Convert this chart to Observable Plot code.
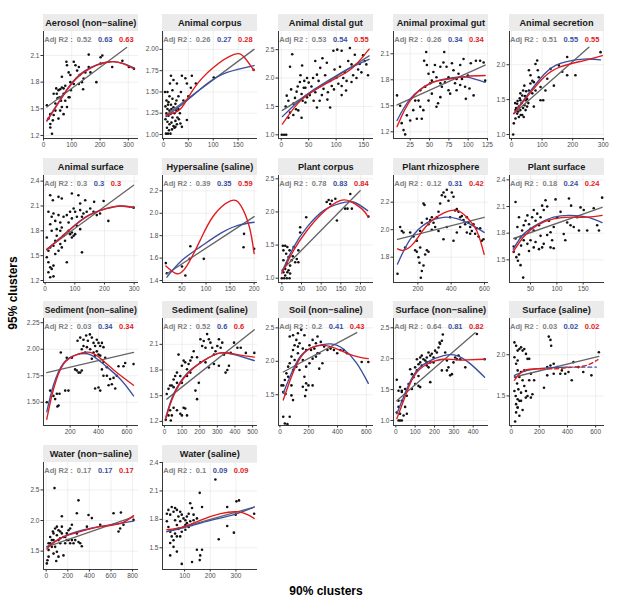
<!DOCTYPE html>
<html>
<head>
<meta charset="utf-8">
<script src="https://cdn.jsdelivr.net/npm/d3@7"></script>
<script src="https://cdn.jsdelivr.net/npm/@observablehq/plot@0.6"></script>
<style>
  html, body { margin: 0; padding: 0; background: #fff; }
  #root { position: relative; width: 617px; height: 605px; overflow: hidden; font-family: "Liberation Sans", Arial, Helvetica, sans-serif; }
  .strip { position: absolute; background: #ebebeb; display: flex; justify-content: center; align-items: center; overflow: hidden; white-space: nowrap; font-weight: bold; font-size: 9.2px; color: #1a1a1a; }
  .r2 { position: absolute; white-space: nowrap; font-weight: bold; font-size: 7.5px; line-height: 9px; }
  .r2 span + span { margin-left: 6.5px; }
  .panel { position: absolute; }
  .title { position: absolute; font-weight: bold; font-size: 12px; color: #000; white-space: nowrap; transform: translate(-50%, -50%); }
</style>
</head>
<body>
<div id="root"></div>
<script>
// ---------------- DATA ----------------
const panelNames = ["Aerosol (non\u2212saline)", "Animal corpus", "Animal distal gut", "Animal proximal gut", "Animal secretion",
  "Animal surface", "Hypersaline (saline)", "Plant corpus", "Plant rhizosphere", "Plant surface",
  "Sediment (non\u2212saline)", "Sediment (saline)", "Soil (non\u2212saline)", "Surface (non\u2212saline)", "Surface (saline)",
  "Water (non\u2212saline)", "Water (saline)"];

const r2Grey = ["0.52","0.26","0.53","0.26","0.51","0.3","0.39","0.78","0.12","0.18","0.03","0.52","0.2","0.64","0.03","0.17","0.1"];
const r2Blue = ["0.63","0.27","0.54","0.34","0.55","0.3","0.35","0.83","0.31","0.24","0.34","0.6","0.41","0.81","0.02","0.17","0.09"];
const r2Red  = ["0.63","0.28","0.55","0.34","0.55","0.3","0.59","0.84","0.42","0.24","0.34","0.6","0.43","0.82","0.02","0.17","0.09"];

const xDomains = [[0,336],[-2,189],[-5,168],[3.4,126.3],[-6.5,304],[-5.6,314.6],[9.5,207],[-8.5,233],[54,624],[10,190.5],
  [12,682],[-11,528],[-10,650],[-12,479],[-12,663],[-25,855],[14,384]];
const yDomains = [[1.166,2.37],[0.953,2.21],[0.935,2.82],[1.123,2.357],[0.943,2.476],[1.176,2.468],[1.382,2.337],[0.935,2.55],[1.616,2.394],[1.245,2.449],
  [1.281,2.29],[1.152,2.402],[1.04,2.64],[0.919,2.65],[1.141,2.44],[1.2,2.948],[1.271,2.4]];
const xTickLabels = [[0,100,200,300],[0,50,100,150],[0,50,100,150],[25,50,75,100,125],[0,100,200,300],
  [0,100,200,300],[50,100,150,200],[0,50,100,150,200],[200,400,600],[50,100,150],
  [200,400,600],[0,100,200,300,400,500],[0,200,400,600],[0,100,200,300,400],[0,200,400,600],
  [0,200,400,600,800],[100,200,300]];
const yTickLabels = [[1.2,1.5,1.8,2.1],[1.0,1.25,1.5,1.75,2.0],[1.0,1.5,2.0,2.5],[1.2,1.5,1.8,2.1],[1.0,1.5,2.0],
  [1.2,1.5,1.8,2.1,2.4],[1.4,1.6,1.8,2.0,2.2],[1.0,1.5,2.0,2.5],[1.8,2.0,2.2],[1.5,1.8,2.1,2.4],
  [1.5,1.75,2.0,2.25],[1.2,1.5,1.8,2.1],[1.5,2.0,2.5],[1.0,1.5,2.0,2.5],[1.5,2.0],
  [1.5,2.0,2.5],[1.5,1.8,2.1,2.4]];
const yTickDecimals = [1,2,1,1,1, 1,1,1,1,1, 2,1,1,1,1, 1,1];

// points [x90, y95]
const aerosolPts = [[12,1.54],[18,1.39],[24,1.33],[30,1.22],[24,1.29],[36,1.43],[42,1.48],[47,1.67],[36,1.67],[53,1.71],[59,1.72],[65,1.74],[57,1.63],[62,1.59],[65,1.52],[59,1.48],[53,1.39],[71,1.44],[77,1.59],[71,1.67],[77,1.76],[81,2.03],[83,1.99],[89,1.91],[95,1.88],[95,1.8],[97,1.71],[89,1.63],[107,2.03],[113,1.99],[119,1.93],[125,1.97],[128,1.88],[136,1.8],[140,1.72],[142,1.84],[148,1.91],[160,1.97],[160,2.11],[166,1.91],[187,1.8],[202,2.08],[208,2.1],[202,2.01],[243,1.97],[279,2.04],[302,1.97],[320,1.95],[45,1.73],[50,1.62],[42,1.56],[83,1.52],[92,1.63],[33,1.37],[24,1.44],[71,1.73],[65,1.86],[125,1.78],[107,1.78]];
const corpusPts = [[5,1.01],[9,1.01],[14,1.01],[3,1.5],[8,1.5],[12,1.45],[6,1.4],[10,1.38],[15,1.35],[18,1.42],[4,1.33],[8,1.3],[12,1.28],[16,1.3],[20,1.32],[24,1.36],[6,1.25],[10,1.22],[14,1.24],[18,1.2],[22,1.25],[26,1.28],[30,1.3],[4,1.18],[8,1.15],[12,1.12],[16,1.14],[20,1.1],[24,1.16],[28,1.2],[7,1.08],[11,1.05],[17,1.06],[22,1.08],[27,1.12],[31,1.18],[34,1.13],[37,1.09],[47,1.17],[24,1.09],[13,1.6],[15,1.69],[20,1.64],[27,1.6],[37,1.69],[44,1.66],[47,1.6],[57,1.69],[40,1.4],[35,1.5],[30,1.45],[50,1.45],[55,1.55],[65,1.6],[101,1.67],[181,1.76],[18,1.52],[9,1.35],[26,1.4],[33,1.25]];
const distalPts = [[1,1.0],[5,1.0],[9,1.0],[20,2.42],[10,1.69],[13,1.6],[16,1.39],[22,1.55],[28,1.76],[34,1.93],[37,1.72],[31,1.43],[39,1.6],[44,1.83],[47,2.0],[22,1.35],[13,1.3],[37,1.3],[16,2.2],[38,2.22],[95,2.48],[102,2.5],[110,2.48],[125,2.53],[134,2.41],[149,2.4],[155,2.24],[83,2.27],[71,2.18],[65,2.06],[50,1.92],[41,1.83],[47,1.66],[62,1.75],[77,1.81],[89,1.95],[92,1.86],[101,2.01],[110,1.86],[89,1.48],[65,1.48],[110,1.7],[128,1.93],[116,2.1],[140,2.15],[128,2.24],[44,1.57],[59,1.6],[55,1.85],[58,2.0],[68,1.95],[74,1.7],[80,2.05],[85,1.75],[97,2.15],[104,1.9],[107,2.2],[113,2.0],[119,1.95],[122,2.3],[131,2.05],[137,2.0],[143,2.25],[146,2.1],[152,2.3],[158,2.05],[25,1.65],[30,1.85],[35,2.05],[52,1.7],[70,1.6],[84,1.62],[96,1.8],[118,1.78],[75,2.35],[62,2.3],[8,1.5],[18,1.8],[27,1.45],[42,1.95]];
const proximalPts = [[8,1.62],[12,1.5],[14,1.3],[16.4,1.22],[18.5,1.17],[20.7,1.39],[25,1.33],[29,1.45],[33.6,1.35],[35.8,1.56],[38,1.49],[40,1.35],[42,1.45],[43,2.02],[45.7,2.12],[46.6,1.97],[48.7,1.87],[44.4,1.72],[51,1.76],[53,1.64],[55,1.89],[57,1.97],[59,1.49],[61,1.53],[64,1.6],[66,1.72],[68,2.0],[69,2.12],[72,1.95],[74.6,1.83],[76.7,1.64],[79,1.99],[81,1.91],[83,1.76],[85,1.68],[87.5,1.87],[89.7,1.97],[92,1.81],[94,2.04],[96,1.72],[97,1.58],[99.6,1.85],[101.7,1.7],[103.4,1.99],[107,1.62],[110,2.02],[115.5,2.02],[120,2.0],[122,1.79],[70,1.77],[74.6,1.68],[53,1.79],[59,1.83],[85,1.81],[89.7,1.74],[38,1.68],[31.5,1.56],[48.7,1.56],[64,1.76],[64,1.95]];
const secretionPts = [[5.5,1.0],[7.6,1.16],[13,1.23],[18.5,1.3],[24,1.4],[29,1.49],[35,1.56],[38,1.63],[42.5,1.42],[46,1.35],[51,1.51],[57,1.92],[62,1.73],[68,1.59],[73,1.4],[78.5,2.01],[84,2.06],[86,1.92],[89,1.82],[95,1.49],[103.6,1.49],[111,1.63],[117,1.8],[127.6,1.94],[138.5,1.7],[155,1.99],[166,1.9],[182,1.85],[182,2.11],[209,1.85],[291,2.18],[73,1.75],[62,1.85],[24,1.25],[35,1.28],[29,1.35],[46,1.49],[57,1.63],[18.5,1.44],[51,1.4],[13,1.35],[40,1.25],[29,1.59],[78.5,1.63],[95,1.68],[68,1.77],[20,1.48],[27,1.52],[33,1.45],[38,1.38],[44,1.55],[15,1.38],[22,1.33],[48,1.62],[55,1.45],[30,1.28],[12,1.45],[42,1.7]];
const animSurfPts = [[17,2.23],[26,2.17],[45,2.21],[56,2.19],[90,2.25],[112,2.23],[118,2.13],[135,2.17],[165,2.15],[197,2.16],[213,1.92],[298,2.08],[11,2.03],[17,1.88],[22,1.97],[28,2.01],[34,1.92],[45,1.99],[51,1.9],[56,1.84],[62,1.97],[73,1.99],[79,1.9],[84,2.03],[90,1.95],[96,2.07],[101,2.03],[107,1.97],[118,2.05],[124,1.97],[129,2.01],[140,2.03],[152,2.07],[163,2.03],[174,1.99],[185,2.01],[90,1.78],[96,1.74],[101,1.76],[90,1.72],[84,1.76],[79,1.8],[67,1.68],[62,1.74],[51,1.8],[39,1.74],[34,1.68],[28,1.62],[17,1.6],[11,1.56],[5.6,1.48],[11,1.42],[17,1.36],[22,1.34],[28,1.38],[11,1.3],[17,1.24],[28,1.25],[34,1.52],[45,1.56],[51,1.64],[73,1.42],[124,1.54],[56,1.6],[5.6,1.72],[39,1.82],[107,1.86],[118,1.82],[22,1.8]];
const hyperPts = [[16.5,1.555],[18.6,1.465],[50,1.525],[57,1.445],[67.4,1.706],[66,1.593],[95.4,1.593],[179,1.816],[178,1.697],[200,1.683]];
const plantCorpPts = [[0,1.0],[6,1.0],[12.7,1.0],[19.5,1.0],[2.5,1.49],[8.5,1.49],[14,1.47],[4,1.42],[11,1.37],[17,1.32],[4,1.27],[12.7,1.22],[8.5,1.14],[17,1.12],[21,1.19],[4,1.09],[25,1.27],[19.5,1.42],[28,1.33],[34,1.24],[38,1.29],[42,1.24],[46.6,1.77],[46.6,1.69],[42,1.42],[62,1.92],[114,2.15],[119,2.18],[123,2.12],[127,2.17],[136,2.2],[140,1.87],[161,2.05],[167,2.05],[174,2.27],[178,2.05],[220,1.93],[30,1.47],[8.5,1.04],[14,1.09],[21,1.07]];
const rhizoPts = [[78,1.68],[94,2.02],[104,1.99],[114,1.98],[184,1.85],[194,1.84],[204,1.8],[210,1.76],[214,1.87],[224,1.7],[218,1.65],[234,1.74],[244,1.82],[254,1.85],[264,1.84],[224,2.05],[234,2.19],[240,2.18],[254,2.08],[264,2.04],[274,2.07],[284,2.09],[294,2.05],[304,2.02],[314,2.09],[324,2.13],[334,2.19],[344,2.25],[354,2.27],[364,2.24],[374,2.29],[384,2.21],[404,2.27],[414,2.24],[424,2.14],[434,2.15],[444,2.13],[454,2.09],[464,2.1],[474,2.07],[484,2.04],[494,2.09],[504,2.05],[514,2.02],[524,1.99],[534,2.04],[544,1.97],[554,2.01],[564,1.95],[574,2.01],[584,1.92],[594,1.93],[354,1.93],[414,1.92],[324,1.99],[284,2.0],[374,2.02],[394,2.09],[454,2.02],[434,1.98],[494,1.98],[514,1.97],[174,1.95],[154,1.98],[214,1.99],[194,1.92],[124,1.87]];
const plantSurfPts = [[21.5,2.15],[18,1.59],[23,1.53],[26,1.49],[28,1.56],[31,1.44],[36,1.3],[31,1.76],[34,1.83],[37,1.89],[40.5,1.94],[44,2.0],[47,1.9],[50,1.85],[53,1.98],[56,2.06],[59.5,1.94],[62.7,2.02],[66,1.89],[69,1.98],[72,2.11],[75,2.06],[78.5,2.17],[81.6,2.1],[85,1.94],[88,1.81],[91,1.72],[94,1.87],[97.5,2.18],[100.6,1.98],[107,2.04],[113,1.79],[119.6,1.92],[123,2.19],[127,2.11],[132,1.87],[138.6,1.98],[142,1.83],[145,2.09],[151,2.06],[157.6,1.83],[170,2.08],[176.6,1.89],[180,1.83],[186,2.2],[56,1.64],[59.5,1.7],[66,1.62],[72,1.64],[81.6,1.78],[50,1.72],[44,1.68],[47,1.6],[37,1.72],[32,1.66],[56,1.83],[69,1.77],[75,1.68],[88,1.64],[94,1.63],[25,1.87],[28,1.98],[21.5,1.74],[18,1.65],[116,1.72],[126,1.89]];
const sedNonPts = [[35,1.5],[59,1.61],[82,1.56],[94,1.53],[106,1.58],[118,1.47],[125,1.58],[110,1.46],[134,1.97],[165,1.61],[176,1.92],[188,1.61],[212,1.92],[235,1.81],[247,1.8],[259,1.78],[271,1.78],[282,1.8],[252,2.08],[271,2.11],[294,2.09],[313,2.13],[325,2.08],[339,2.14],[353,2.11],[365,2.06],[376,2.03],[388,2.09],[400,2.06],[412,2.03],[424,2.06],[435,2.02],[388,1.98],[400,1.95],[412,1.94],[376,1.94],[365,1.97],[341,2.0],[318,2.02],[353,1.91],[376,1.63],[400,1.64],[412,1.61],[424,1.81],[435,1.88],[447,1.92],[459,1.75],[471,1.66],[482,1.72],[494,1.67],[518,1.63],[529,1.75],[541,1.84],[576,1.84],[588,1.87],[647,1.86],[435,1.75],[459,1.83],[506,1.73],[294,2.03],[282,2.0],[306,1.97]];
const sedSalPts = [[7.6,1.22],[23,1.27],[32,1.33],[42,1.27],[36,1.21],[99,1.27],[109,1.36],[118,1.35],[90,1.29],[128,1.27],[52,1.36],[71,1.33],[13,1.52],[32,1.62],[42,1.62],[52,1.6],[61,1.73],[71,1.77],[80,1.98],[90,1.73],[99,1.85],[109,1.91],[118,1.89],[128,1.81],[137,1.87],[147,1.91],[156,1.95],[176,1.56],[185,1.46],[195,1.65],[204,2.16],[214,2.08],[223,2.14],[233,2.06],[242,2.22],[252,2.16],[261,2.12],[271,2.06],[281,1.98],[290,2.02],[300,2.08],[309,2.16],[319,2.06],[328,2.12],[338,1.98],[347,1.77],[357,1.8],[366,1.85],[376,2.0],[395,2.12],[414,2.06],[433,2.06],[462,2.0],[510,2.0],[185,1.95],[204,1.89],[166,2.02],[233,1.89],[252,1.83],[309,1.85],[281,1.87],[128,1.73],[147,1.77],[99,1.65],[71,1.65],[52,1.69],[23,1.58]];
const soilPts = [[11,1.64],[80,1.64],[23,1.54],[39,1.51],[80,1.49],[23,1.17],[34,1.07],[52,1.06],[68,1.17],[159,1.62],[182,1.57],[175,1.48],[198,1.64],[227,1.64],[91,1.42],[23,1.64],[34,1.72],[45,1.82],[57,1.92],[68,1.97],[80,2.07],[91,2.17],[102,2.24],[114,2.32],[125,2.42],[148,2.47],[170,2.39],[136,2.27],[159,2.19],[182,2.17],[205,2.24],[227,2.32],[250,2.27],[261,2.37],[284,2.29],[307,2.22],[330,2.17],[352,2.19],[375,2.17],[398,2.12],[420,2.17],[443,2.17],[466,2.12],[250,2.07],[273,2.12],[227,2.04],[205,1.97],[182,1.92],[159,2.02],[125,2.12],[102,2.02],[91,1.87],[57,1.77],[114,1.92],[136,1.87],[170,1.77],[182,1.67],[68,2.37],[91,2.39],[125,2.22],[295,1.97],[273,1.89],[568,1.99],[614,1.99],[216,2.17],[239,2.19],[261,2.12]];
const surfNonPts = [[5,1.13],[14,1.0],[22,1.0],[31,1.0],[22,1.11],[40,1.08],[57,1.11],[48,1.22],[14,1.22],[31,1.32],[57,1.4],[83,1.51],[14,1.32],[31,1.48],[100,1.59],[117,1.56],[126,1.54],[178,1.62],[5,1.66],[14,1.48],[22,1.54],[31,1.46],[48,1.51],[66,1.59],[74,1.83],[91,1.7],[109,1.81],[117,1.91],[126,2.02],[134,2.05],[143,1.99],[152,1.97],[160,2.02],[169,2.1],[178,2.05],[186,2.08],[195,2.02],[203,2.13],[212,2.1],[221,2.18],[229,2.24],[238,2.29],[243,2.39],[226,2.26],[255,2.1],[264,1.97],[272,1.86],[281,1.73],[290,1.75],[298,1.94],[307,2.02],[316,1.99],[324,2.05],[333,1.99],[359,1.86],[419,2.4],[459,1.99],[126,1.94],[109,1.99],[134,1.89],[160,1.94],[178,1.94],[195,1.94],[169,1.86],[100,1.86],[83,1.75],[117,1.72],[160,1.89],[264,1.81],[238,1.81]];
const surfSalPts = [[23,2.15],[35,2.11],[46,2.05],[58,2.07],[70,2.09],[81,2.05],[93,2.07],[105,2.01],[116,1.95],[128,1.95],[23,1.97],[35,1.89],[46,1.81],[28,1.73],[42,1.65],[51,1.58],[32,1.5],[46,1.46],[35,1.4],[46,1.36],[23,1.56],[58,1.73],[70,1.79],[81,1.69],[93,1.62],[105,1.56],[116,1.5],[140,1.48],[151,1.52],[163,1.69],[140,1.77],[128,1.69],[70,1.54],[58,1.44],[93,1.81],[46,1.93],[267,2.22],[279,2.18],[284,2.11],[233,1.6],[279,1.87],[302,1.89],[326,1.85],[349,1.77],[360,1.81],[384,1.77],[407,1.79],[430,1.69],[442,1.91],[477,1.85],[512,1.79],[570,1.75],[623,2.03],[302,1.77],[256,1.75],[256,1.85],[28,1.19],[46,1.36],[70,1.44],[35,1.3],[58,1.26],[81,1.33],[104,1.48]];
const waterNonPts = [[77,2.53],[22,1.41],[6,1.3],[12,1.35],[22,1.52],[37,1.63],[52,1.68],[68,1.79],[83,1.87],[99,1.9],[114,1.84],[130,1.82],[145,1.79],[160,1.73],[145,1.9],[114,1.68],[83,1.57],[99,1.49],[68,1.46],[93,1.34],[114,1.41],[160,1.43],[145,2.07],[176,1.63],[191,1.68],[207,1.84],[222,1.87],[238,1.93],[253,1.63],[269,1.68],[284,1.79],[299,2.33],[284,2.12],[315,1.63],[330,1.58],[299,1.65],[238,1.68],[222,1.63],[191,1.79],[377,1.9],[392,2.09],[423,2.04],[500,1.93],[624,2.12],[670,1.82],[685,1.87],[692,2.13],[716,1.93],[809,2.01],[37,1.73],[52,1.57],[68,1.68],[130,1.71],[99,1.76],[176,1.73],[207,1.68],[62,1.82],[130,1.63],[22,1.63]];
const waterSalPts = [[220,2.22],[159,2.08],[50,1.93],[63,1.92],[31,1.86],[37,1.9],[44,1.85],[57,1.88],[70,1.9],[76,1.83],[83,1.88],[89,1.85],[96,1.81],[103,1.79],[109,1.83],[116,1.86],[122,1.97],[129,1.92],[135,1.85],[148,1.81],[168,1.93],[31,1.78],[37,1.72],[44,1.67],[50,1.62],[57,1.58],[63,1.65],[70,1.74],[76,1.7],[83,1.62],[89,1.67],[96,1.72],[103,1.69],[109,1.76],[116,1.72],[122,1.78],[129,1.74],[135,1.79],[44,1.55],[57,1.51],[70,1.46],[44,1.42],[89,1.33],[129,1.35],[148,1.48],[161,1.42],[159,1.37],[168,1.48],[233,1.59],[266,1.73],[266,1.93],[292,1.66],[299,1.85],[302,1.99],[312,2.0],[371,1.86],[70,1.62],[83,1.78],[103,1.74],[63,1.79]];

// fitted curves: linear (grey), blue and red fits
const aerosolGrey = [[12,1.52],[294,2.19]];
const aerosolBlue = [[12,1.37],[83,1.72],[142,1.92],[237,2.03],[320,1.96]];
const aerosolRed = [[12,1.36],[83,1.71],[142,1.91],[237,2.03],[320,1.95]];
const corpusGrey = [[5,1.23],[182,2.0]];
const corpusBlue = [[5,1.21],[47,1.4],[88,1.6],[128,1.73],[182,1.81]];
const corpusRed = [[5,1.23],[34,1.3],[61,1.54],[101,1.79],[142,1.94],[162,1.91],[182,1.75]];
const distalGrey = [[2,1.43],[160,2.39]];
const distalBlue = [[2,1.32],[30,1.58],[60,1.8],[100,2.04],[130,2.2],[160,2.33]];
const distalRed = [[2,1.19],[30,1.55],[60,1.78],[100,2.0],[130,2.18],[160,2.51]];
const proximalGrey = [[8,1.51],[122,1.97]];
const proximalBlue = [[8,1.33],[25,1.58],[51,1.76],[77,1.82],[98,1.83],[122,1.77]];
const proximalRed = [[8,1.26],[25,1.56],[51,1.76],[77,1.81],[98,1.84],[122,1.85]];
const secretionGrey = [[7.6,1.3],[253,2.25]];
const secretionBlue = [[7.6,1.3],[51,1.56],[106,1.86],[160,2.02],[237,2.08],[291,2.07]];
const secretionRed = [[7.6,1.3],[51,1.54],[106,1.82],[160,1.97],[237,2.06],[297,2.13]];
const animSurfGrey = [[5.6,1.58],[298,2.35]];
const animSurfBlue = [[5.6,1.575],[73,1.785],[140,1.975],[208,2.07],[253,2.1],[298,2.085]];
const animSurfRed = [[5.6,1.57],[73,1.78],[140,1.97],[208,2.07],[253,2.1],[298,2.08]];
const hyperGrey = [[18.6,1.46],[200,1.97]];
const hyperBlue = [[18.6,1.43],[50,1.58],[88,1.7],[130,1.82],[165,1.89],[200,1.92]];
const hyperRed = [[16.5,1.53],[39.5,1.46],[60,1.53],[88,1.76],[116,1.98],[151,2.11],[172,2.07],[190,1.88],[200,1.64]];
const plantCorpGrey = [[0,1.12],[199,2.32]];
const plantCorpBlue = [[0,1.09],[30,1.47],[64,1.77],[106,2.02],[148,2.13],[182,2.15],[218,2.02]];
const plantCorpRed = [[0,1.07],[30,1.42],[64,1.72],[106,2.0],[148,2.17],[174,2.16],[203,2.05],[220,1.92]];
const rhizoGrey = [[78,1.93],[598,2.09]];
const rhizoBlue = [[78,1.75],[154,1.93],[254,2.05],[354,2.09],[434,2.08],[514,2.04],[598,1.98]];
const rhizoRed = [[78,1.86],[114,1.85],[174,1.9],[254,2.03],[354,2.12],[434,2.14],[494,2.09],[554,1.99],[598,1.82]];
const plantSurfGrey = [[18,1.74],[186,2.09]];
const plantSurfBlue = [[17,1.62],[37,1.79],[63,1.9],[94,1.98],[126,2.0],[157.6,1.98],[186,1.92]];
const plantSurfRed = [[17,1.59],[37,1.76],[63,1.89],[94,1.96],[126,1.98],[157.6,1.98],[186,2.0]];
const sedNonGrey = [[35,1.78],[647,1.97]];
const sedNonBlue = [[35,1.41],[82,1.66],[153,1.87],[247,1.95],[341,1.95],[435,1.86],[553,1.72],[647,1.56]];
const sedNonRed = [[35,1.34],[82,1.62],[153,1.86],[247,1.95],[341,1.97],[435,1.89],[529,1.78],[647,1.66]];
const sedSalGrey = [[13,1.46],[510,2.27]];
const sedSalBlue = [[7.6,1.25],[52,1.52],[128,1.76],[223,1.91],[319,2.0],[414,1.97],[510,1.91]];
const sedSalRed = [[7.6,1.23],[52,1.5],[128,1.75],[223,1.91],[319,2.0],[414,1.98],[510,1.95]];
const soilGrey = [[23,1.84],[534,2.43]];
const soilBlue = [[23,1.52],[80,1.82],[148,2.09],[239,2.22],[352,2.26],[443,2.18],[534,1.97],[614,1.67]];
const soilRed = [[23,1.42],[80,1.77],[148,2.07],[239,2.22],[352,2.22],[466,2.12],[557,2.06],[614,2.04]];
const surfNonGrey = [[5,1.32],[410,2.42]];
const surfNonBlue = [[5,1.11],[40,1.38],[91,1.73],[160,1.94],[247,2.05],[316,2.05],[384,1.92],[459,1.7]];
const surfNonRed = [[5,1.03],[40,1.32],[91,1.7],[160,1.91],[247,1.99],[316,1.98],[367,1.98],[459,1.99]];
const surfSalGrey = [[23,1.73],[623,1.98]];
const surfSalBlue = [[23,1.75],[116,1.81],[256,1.84],[395,1.85]];
const surfSalBlueDash = [[395,1.85],[535,1.85],[605,1.85]];
const surfSalRed = [[23,1.69],[93,1.81],[209,1.83]];
const surfSalRedDash = [[209,1.83],[326,1.83],[442,1.85],[535,1.87],[616,1.94]];
const waterNonGrey = [[6,1.57],[809,2.06]];
const waterNonBlue = [[6,1.57],[191,1.76],[407,1.87],[593,1.93],[809,1.99]];
const waterNonRed = [[6,1.54],[130,1.71],[315,1.82],[500,1.9],[685,1.95],[809,2.08]];
const waterSalGrey = [[31,1.67],[371,1.93]];
const waterSalBlue = [[31,1.67],[109,1.72],[201,1.79],[292,1.85],[371,1.93]];
const waterSalRed = [[31,1.69],[96,1.72],[161,1.79],[240,1.86],[305,1.88],[345,1.85],[371,1.81]];

const allPts = [aerosolPts, corpusPts, distalPts, proximalPts, secretionPts, animSurfPts, hyperPts, plantCorpPts, rhizoPts, plantSurfPts, sedNonPts, sedSalPts, soilPts, surfNonPts, surfSalPts, waterNonPts, waterSalPts];
const allGrey = [aerosolGrey, corpusGrey, distalGrey, proximalGrey, secretionGrey, animSurfGrey, hyperGrey, plantCorpGrey, rhizoGrey, plantSurfGrey, sedNonGrey, sedSalGrey, soilGrey, surfNonGrey, surfSalGrey, waterNonGrey, waterSalGrey];
const allBlue = [aerosolBlue, corpusBlue, distalBlue, proximalBlue, secretionBlue, animSurfBlue, hyperBlue, plantCorpBlue, rhizoBlue, plantSurfBlue, sedNonBlue, sedSalBlue, soilBlue, surfNonBlue, surfSalBlue, waterNonBlue, waterSalBlue];
const allRed = [aerosolRed, corpusRed, distalRed, proximalRed, secretionRed, animSurfRed, hyperRed, plantCorpRed, rhizoRed, plantSurfRed, sedNonRed, sedSalRed, soilRed, surfNonRed, surfSalRed, waterNonRed, waterSalRed];
const dashBlue = {14: surfSalBlueDash};
const dashRed = {14: surfSalRedDash};

// ---------------- LAYOUT / STYLE ----------------
const colX = [43.3, 162.3, 278.3, 393.3, 509];
const rowTop = [14, 158, 301, 445];
const STRIP = 17, PW = 95, PH = 107, ML = 26, MR = 3, MB = 14;
const GREY = "#666666", BLUE = "#3a4fa0", RED = "#e31a1c";
const FONT = '"Liberation Sans", Arial, Helvetica, sans-serif';

const root = document.getElementById("root");
const X = d => d[0], Y = d => d[1];

panelNames.forEach((name, i) => {
  const col = i % 5, row = Math.floor(i / 5);
  const px = colX[col], top = rowTop[row], ptop = top + STRIP;

  const strip = document.createElement("div");
  strip.className = "strip";
  Object.assign(strip.style, {left: px + "px", top: top + "px", width: PW + "px", height: STRIP + "px"});
  const st = document.createElement("span");
  st.textContent = name;
  strip.appendChild(st);
  root.appendChild(strip);
  // shrink a strip label that would not fit its box
  let fs = 9.2;
  while (st.getBoundingClientRect().width > PW - 1 && fs > 6) {
    fs -= 0.2;
    strip.style.fontSize = fs + "px";
  }

  const fmt = d3.format("." + yTickDecimals[i] + "f");
  const lineOpts = (stroke, extra = {}) => ({x: X, y: Y, stroke, strokeWidth: 1.35, curve: "natural", clip: true, ...extra});
  const marks = [
    Plot.gridX(xTickLabels[i], {stroke: "#e8e8e8", strokeOpacity: 1, strokeWidth: 0.7}),
    Plot.gridY(yTickLabels[i], {stroke: "#e8e8e8", strokeOpacity: 1, strokeWidth: 0.7}),
    Plot.dot(allPts[i], {x: X, y: Y, r: 1.3, fill: "#111", clip: true}),
    Plot.line(allGrey[i], {x: X, y: Y, stroke: GREY, strokeWidth: 1.35, clip: true}),
    Plot.line(allBlue[i], lineOpts(BLUE)),
  ];
  if (dashBlue[i]) marks.push(Plot.line(dashBlue[i], lineOpts(BLUE, {strokeDasharray: "4,3"})));
  marks.push(Plot.line(allRed[i], lineOpts(RED)));
  if (dashRed[i]) marks.push(Plot.line(dashRed[i], lineOpts(RED, {strokeDasharray: "4,3"})));
  marks.push(
    Plot.ruleX([xDomains[i][0]], {stroke: "#222", strokeWidth: 0.9}),
    Plot.ruleY([yDomains[i][0]], {stroke: "#222", strokeWidth: 0.9}),
    Plot.axisX(xTickLabels[i], {tickSize: 2.5, tickPadding: 1, stroke: "#333", fill: "#4d4d4d", label: null}),
    Plot.axisY(yTickLabels[i], {tickSize: 2.5, tickPadding: 1.5, stroke: "#333", fill: "#4d4d4d", label: null, tickFormat: fmt})
  );

  const chart = Plot.plot({
    width: ML + PW + MR, height: PH + MB,
    marginLeft: ML, marginRight: MR, marginTop: 0, marginBottom: MB,
    x: {domain: xDomains[i]},
    y: {domain: yDomains[i]},
    style: {fontSize: "6.5px", fontFamily: FONT, background: "transparent", overflow: "visible"},
    marks
  });
  chart.classList.add("panel");
  chart.style.left = (px - ML) + "px";
  chart.style.top = ptop + "px";
  root.appendChild(chart);

  const lab = document.createElement("div");
  lab.className = "r2";
  lab.style.left = (px + 1) + "px";
  lab.style.top = (ptop + 3.5) + "px";
  const parts = [["Adj R2 :  " + r2Grey[i], "#7f7f7f"], [r2Blue[i], BLUE], [r2Red[i], RED]];
  parts.forEach(([t, c]) => {
    const s = document.createElement("span");
    s.textContent = t;
    s.style.color = c;
    s.style.whiteSpace = "pre";
    lab.appendChild(s);
  });
  root.appendChild(lab);
});

const yTitle = document.createElement("div");
yTitle.className = "title";
yTitle.textContent = "95% clusters";
Object.assign(yTitle.style, {left: "13px", top: "293px", transform: "translate(-50%,-50%) rotate(-90deg)"});
root.appendChild(yTitle);

const xTitle = document.createElement("div");
xTitle.className = "title";
xTitle.textContent = "90% clusters";
Object.assign(xTitle.style, {left: "326px", top: "591px"});
root.appendChild(xTitle);
</script>
</body>
</html>
